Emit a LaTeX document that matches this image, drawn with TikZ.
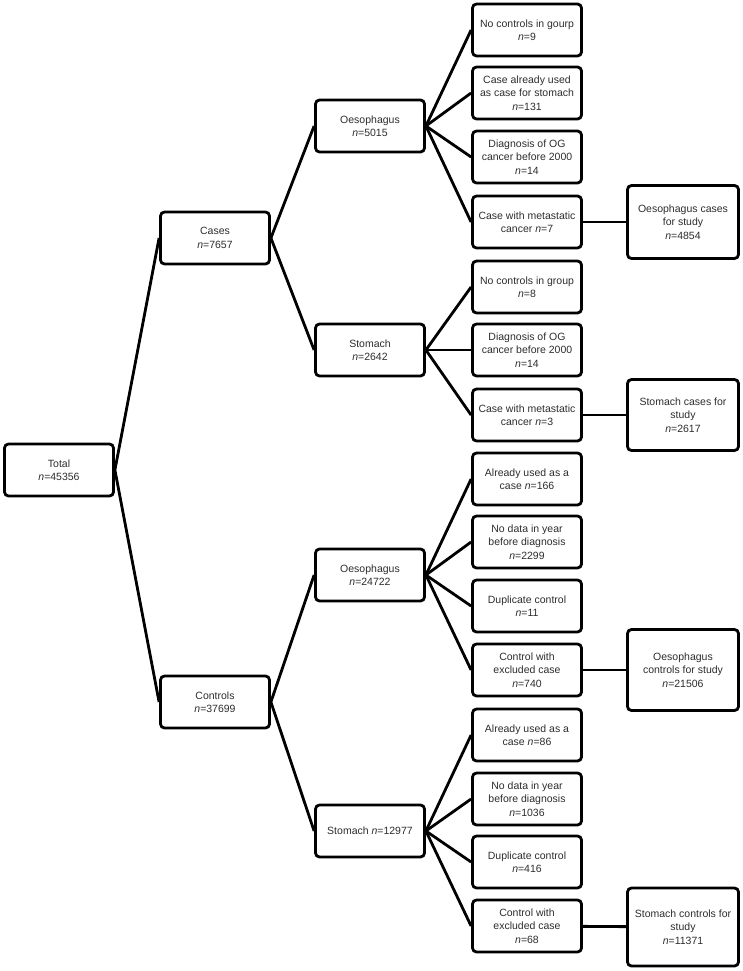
\documentclass[tikz,border=0pt]{standalone}
\usepackage{fontspec}
\setmainfont{Liberation Sans}
\usetikzlibrary{positioning}
\definecolor{boxtext}{RGB}{45,45,45}

\begin{document}
\begin{tikzpicture}[x=1pt, y=-1pt,
    box/.style={draw, line width=2.8pt, rounded corners=4pt, minimum width=109pt, minimum height=#1, align=center, inner sep=1pt, text=boxtext, font=\fontsize{10.5}{13.5}\selectfont},
    box/.default=52pt,
    study/.style={box=#1, minimum width=111pt},
    link/.style={line width=2.8pt}
]
\useasboundingbox (0,0) rectangle (742,971);

% first levels
\node[box] (total) at (59,470) {Total\\\textit{n}=45356};
\node[box] (cases) at (215,238) {Cases\\\textit{n}=7657};
\node[box] (ctrl) at (215,702) {Controls\\\textit{n}=37699};
\node[box] (caseoes) at (370,126) {Oesophagus\\\textit{n}=5015};
\node[box] (casesto) at (370,350) {Stomach\\\textit{n}=2642};
\node[box] (ctrloes) at (370,575) {Oesophagus\\\textit{n}=24722};
\node[box] (ctrlsto) at (370,831) {Stomach \textit{n}=12977};

% exclusions, oesophagus cases
\node[box] (co1) at (527,30) {No controls in gourp\\\textit{n}=9};
\node[box] (co2) at (527,93) {Case already used\\as case for stomach\\\textit{n}=131};
\node[box] (co3) at (527,157) {Diagnosis of OG\\cancer before 2000\\\textit{n}=14};
\node[box] (co4) at (527,222) {Case with metastatic\\cancer \textit{n}=7};
\node[study=73pt] (costudy) at (683,222) {Oesophagus cases\\for study\\\textit{n}=4854};

% exclusions, stomach cases
\node[box] (cs1) at (527,287) {No controls in group\\\textit{n}=8};
\node[box] (cs2) at (527,350) {Diagnosis of OG\\cancer before 2000\\\textit{n}=14};
\node[box] (cs3) at (527,415) {Case with metastatic\\cancer \textit{n}=3};
\node[study=71pt] (csstudy) at (683,415) {Stomach cases for\\study\\\textit{n}=2617};

% exclusions, oesophagus controls
\node[box] (ko1) at (527,479) {Already used as a\\case \textit{n}=166};
\node[box] (ko2) at (527,542) {No data in year\\before diagnosis\\\textit{n}=2299};
\node[box] (ko3) at (527,606) {Duplicate control\\\textit{n}=11};
\node[box] (ko4) at (527,670) {Control with\\excluded case\\\textit{n}=740};
\node[study=81pt] (kostudy) at (683,670) {Oesophagus\\controls for study\\\textit{n}=21506};

% exclusions, stomach controls
\node[box] (ks1) at (527,735) {Already used as a\\case \textit{n}=86};
\node[box] (ks2) at (527,799) {No data in year\\before diagnosis\\\textit{n}=1036};
\node[box] (ks3) at (527,862) {Duplicate control\\\textit{n}=416};
\node[box] (ks4) at (527,926) {Control with\\excluded case\\\textit{n}=68};
\node[study=78pt] (ksstudy) at (683,927) {Stomach controls for\\study\\\textit{n}=11371};

\draw[link] (total.east) -- (cases.west);
\draw[link] (total.east) -- (ctrl.west);
\draw[link] (cases.east) -- (caseoes.west);
\draw[link] (cases.east) -- (casesto.west);
\draw[link] (ctrl.east) -- (ctrloes.west);
\draw[link] (ctrl.east) -- (ctrlsto.west);

\draw[link] (caseoes.east) -- (co1.west);
\draw[link] (caseoes.east) -- (co2.west);
\draw[link] (caseoes.east) -- (co3.west);
\draw[link] (caseoes.east) -- (co4.west);
\draw[link] (co4) -- (costudy);

\draw[link] (casesto.east) -- (cs1.west);
\draw[link] (casesto.east) -- (cs2.west);
\draw[link] (casesto.east) -- (cs3.west);
\draw[link] (cs3) -- (csstudy);

\draw[link] (ctrloes.east) -- (ko1.west);
\draw[link] (ctrloes.east) -- (ko2.west);
\draw[link] (ctrloes.east) -- (ko3.west);
\draw[link] (ctrloes.east) -- (ko4.west);
\draw[link] (ko4) -- (kostudy);

\draw[link] (ctrlsto.east) -- (ks1.west);
\draw[link] (ctrlsto.east) -- (ks2.west);
\draw[link] (ctrlsto.east) -- (ks3.west);
\draw[link] (ctrlsto.east) -- (ks4.west);
\draw[link] (ks4) -- (ksstudy);
\end{tikzpicture}
\end{document}
